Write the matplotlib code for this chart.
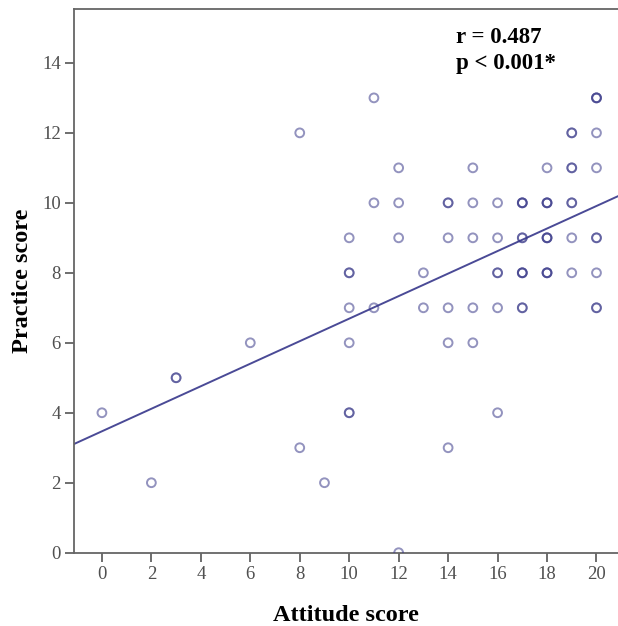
import matplotlib
matplotlib.use('Agg')
import matplotlib.pyplot as plt
import numpy as np

# attitude score, practice score, how many subjects share that point
attitude = [11, 20, 8, 19, 20, 12, 15, 18, 19, 20,
            11, 12, 14, 15, 16, 17, 18, 19,
            10, 12, 14, 15, 16, 17, 18, 19, 20,
            10, 13, 16, 17, 18, 19, 20,
            10, 11, 13, 14, 15, 16, 17, 20,
            6, 10, 14, 15, 3, 0, 10, 16, 8, 14, 2, 9, 12]
practice = [13, 13, 12, 12, 12, 11, 11, 11, 11, 11,
            10, 10, 10, 10, 10, 10, 10, 10,
            9, 9, 9, 9, 9, 9, 9, 9, 9,
            8, 8, 8, 8, 8, 8, 8,
            7, 7, 7, 7, 7, 7, 7, 7,
            6, 6, 6, 6, 5, 4, 4, 4, 3, 3, 2, 2, 0]
counts = [1, 3, 1, 2, 1, 1, 1, 1, 2, 1,
          1, 1, 2, 1, 1, 3, 3, 2,
          1, 1, 1, 1, 1, 2, 3, 1, 2,
          2, 1, 2, 3, 3, 1, 1,
          1, 1, 1, 1, 1, 1, 2, 2,
          1, 1, 1, 1, 2, 1, 2, 1, 1, 1, 1, 1, 1]

# fit line as drawn in the figure
intercept = 3.47
slope = 0.322
r_value = 0.487

plt.rcParams['font.family'] = ['Liberation Serif', 'DejaVu Serif']

fig = plt.figure(figsize=(6.18, 6.26), dpi=100)
ax = fig.add_axes([0.1197, 0.1171, 0.8803, 0.8685])

x = np.repeat(attitude, counts)
y = np.repeat(practice, counts)
ax.scatter(x, y, s=40, facecolors='none', edgecolors='#3a3a8a',
           linewidths=1.4, alpha=0.55, zorder=3)

xlim = (-1.13, 20.87)
ax.set_xlim(xlim)
ax.set_ylim(0, 15.54)
xs = np.array(xlim)
ax.plot(xs, intercept + slope * xs, color='#4a4a96', linewidth=1.4, zorder=2)

ax.text(14.3, 14.74, 'r = %.3f' % r_value, fontsize=16.5, fontweight='bold',
        ha='left', va='center')
ax.text(14.3, 13.98, 'p < 0.001*', fontsize=16.5, fontweight='bold',
        ha='left', va='center')

ax.set_xticks(range(0, 21, 2))
ax.set_yticks(range(0, 15, 2))
ax.tick_params(direction='out', length=6.5, width=1.2, color='#555555',
               labelcolor='#505050', labelsize=13.5, pad=3)
ax.spines['right'].set_visible(False)
for s in ['left', 'bottom', 'top']:
    ax.spines[s].set_color('#666666')
    ax.spines[s].set_linewidth(1.3)

ax.set_xlabel('Attitude score', fontsize=17.5, fontweight='bold', labelpad=16)
ax.set_ylabel('Practice score', fontsize=17.5, fontweight='bold', labelpad=6.5)

fig.savefig('out.png', dpi=100)
